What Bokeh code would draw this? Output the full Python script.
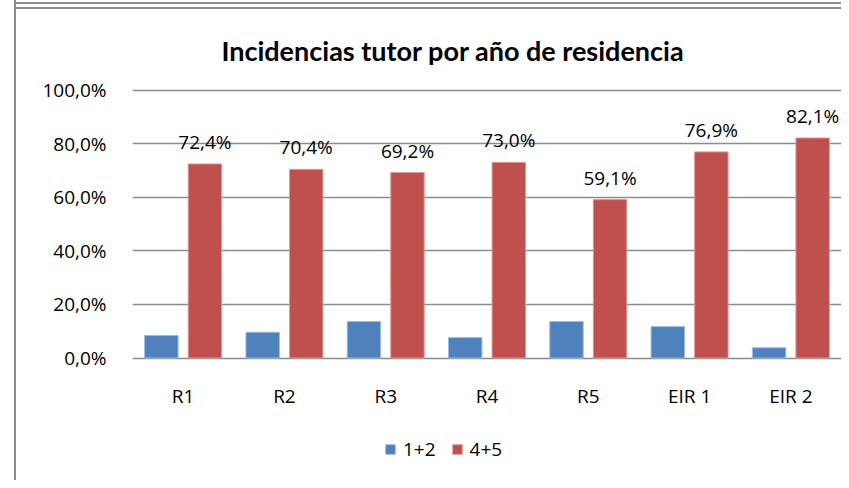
from bokeh.plotting import figure
from bokeh.models import (ColumnDataSource, FactorRange, Range1d, FixedTicker, LabelSet,
                          Label, Legend, LegendItem)
from bokeh.core.properties import value
from bokeh.transform import dodge
from bokeh.embed import file_html
from bokeh.resources import INLINE

categories = ["R1", "R2", "R3", "R4", "R5", "EIR 1", "EIR 2"]
series_12 = [8.4, 9.6, 13.6, 7.6, 13.6, 11.7, 3.8]
series_45 = [72.4, 70.4, 69.2, 73.0, 59.1, 76.9, 82.1]
labels_45 = ["72,4%", "70,4%", "69,2%", "73,0%", "59,1%", "76,9%", "82,1%"]
y_ticks = [0, 20, 40, 60, 80, 100]
y_tick_labels = ["0,0%", "20,0%", "40,0%", "60,0%", "80,0%", "100,0%"]
series_names = ["1+2", "4+5"]
title_text = "Incidencias tutor por año de residencia"

FONT = "Open Sans"
BLUE = "#4F81BD"
RED = "#C0504D"
GRID = "#8c8c8c"
PX = 2.68  # pixels per percentage point
H = 480

src = ColumnDataSource(dict(cat=categories, s12=series_12, s45=series_45, lab=labels_45,
                            cat_y=[-14.0] * len(categories)))

p = figure(width=841, height=H, x_range=FactorRange(*categories, range_padding=0),
           y_range=Range1d(-(H - 357.5) / PX, 100 + 89.5 / PX),
           output_backend="svg", toolbar_location=None, x_axis_location=None,
           min_border_left=132, min_border_right=0, min_border_top=0, min_border_bottom=0)
p.outline_line_color = None
p.background_fill_alpha = 0
p.border_fill_alpha = 0
p.styles = {"background-color": "white",
            "box-shadow": (f"inset 14px 0 0 0 white, inset 16px 0 0 0 {GRID}, "
                           f"inset 0 2px 0 0 white, inset 0 4px 0 0 {GRID}, "
                           f"inset 0 7px 0 0 white, inset 0 9px 0 0 {GRID}")}

r1 = p.vbar(x=dodge("cat", -0.215, range=p.x_range), top="s12", bottom=0, width=0.33,
            source=src, fill_color=BLUE, line_color="#9db9dc", line_width=1)
r2 = p.vbar(x=dodge("cat", 0.215, range=p.x_range), top="s45", bottom=0, width=0.33,
            source=src, fill_color=RED, line_color="#dc9a98", line_width=1)

lab = LabelSet(x=dodge("cat", 0.215, range=p.x_range), y="s45", text="lab", source=src,
               text_align="center", text_baseline="alphabetic", y_offset=15,
               text_font=value(FONT), text_font_size=value("19px"), text_color="black")
p.add_layout(lab)

# category labels (x axis)
cat_lab = LabelSet(x="cat", y="cat_y", text="cat", source=src, text_align="center",
                   text_baseline="middle", text_font=value(FONT),
                   text_font_size=value("19px"), text_color="black")
p.add_layout(cat_lab)

# title
title = Label(x=3.165, y=100 + (89.5 - 50) / PX, text=title_text, text_align="center",
              text_baseline="alphabetic", text_font="Lato", text_font_size="27px",
              text_font_style="bold", text_color="black")
p.add_layout(title)

# y axis and grid
p.xgrid.grid_line_color = None
p.ygrid.grid_line_color = GRID
p.ygrid.grid_line_width = 1.5
p.yaxis.ticker = FixedTicker(ticks=y_ticks)
p.yaxis.major_label_overrides = {t: s for t, s in zip(y_ticks, y_tick_labels)}
p.yaxis.axis_line_color = None
p.yaxis.major_tick_line_color = None
p.yaxis.minor_tick_line_color = None
p.yaxis.major_label_standoff = 20
p.yaxis.major_label_text_font = FONT
p.yaxis.major_label_text_font_size = "19px"
p.yaxis.major_label_text_color = "black"

legend = Legend(items=[LegendItem(label=series_names[0], renderers=[r1]),
                       LegendItem(label=series_names[1], renderers=[r2])],
                orientation="horizontal", location=(252, 18),
                glyph_width=12, glyph_height=12, label_height=12, label_standoff=7,
                spacing=15, padding=0, margin=0, border_line_color=None,
                background_fill_alpha=0, label_text_font=FONT,
                label_text_font_size="19px", label_text_color="black")
p.add_layout(legend, "center")

open("out.html", "w").write(file_html(p, INLINE))
